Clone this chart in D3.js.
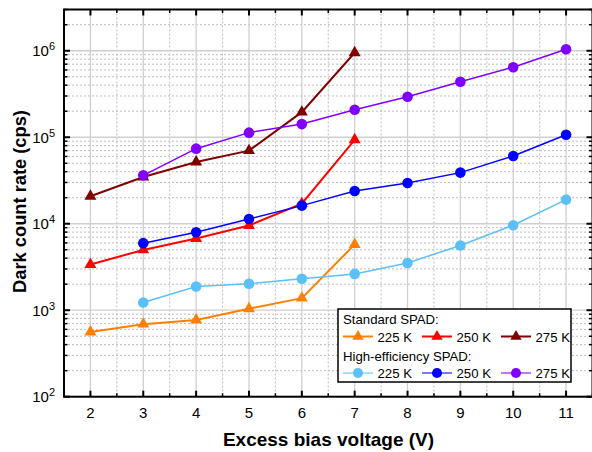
<!DOCTYPE html>
<html><head><meta charset="utf-8">
<script src="https://cdn.jsdelivr.net/npm/d3@7"></script>
<style>
html,body{margin:0;padding:0;background:#fff;}
svg{display:block;font-family:"Liberation Sans",Arial,sans-serif;}
</style></head>
<body>
<script>
// ---- data ----
const xStd = [2, 3, 4, 5, 6, 7];
const xHE = [3, 4, 5, 6, 7, 8, 9, 10, 11];
const std225 = [560, 690, 770, 1040, 1380, 5760];
const std250 = [3380, 4980, 6740, 9530, 17100, 93500];
const std275 = [20800, 34700, 51700, 70000, 195000, 948000];
const he225 = [1230, 1880, 2020, 2310, 2630, 3520, 5600, 9620, 19000];
const he250 = [5960, 7980, 11350, 16200, 23900, 29600, 39000, 60700, 107000];
const he275 = [36300, 73800, 113000, 142000, 208000, 294000, 439000, 646000, 1040000];
const xTicks = [2, 3, 4, 5, 6, 7, 8, 9, 10, 11];
const yTickExps = [2, 3, 4, 5, 6];
const legendLabels = ["225 K", "250 K", "275 K"];

const series = [
  {name:"std225", xs:xStd, ys:std225, color:"#ff8000", marker:"tri", w:2},
  {name:"std250", xs:xStd, ys:std250, color:"#ff0000", marker:"tri", w:2},
  {name:"std275", xs:xStd, ys:std275, color:"#800000", marker:"tri", w:2},
  {name:"he225", xs:xHE, ys:he225, color:"#5bc0f8", marker:"circ", w:1.5},
  {name:"he250", xs:xHE, ys:he250, color:"#0000ff", marker:"circ", w:1.5},
  {name:"he275", xs:xHE, ys:he275, color:"#8000ff", marker:"circ", w:1.5}
];

const W = 592, H = 452;
const L = 64, R = 592.5, T = 9.5, B = 396.7;
const svg = d3.select("body").append("svg").attr("width", W).attr("height", H);

const x = d3.scaleLinear().domain([1.5, 11.5]).range([L, R]);
const y = d3.scaleLog().domain([100, 3e6]).range([B, T]);

const grid = svg.append("g");
d3.range(1.5, 11.6, 1).forEach(v => {
  grid.append("line").attr("x1", x(v)).attr("x2", x(v)).attr("y1", T).attr("y2", B)
    .attr("stroke", "#bdbdbd").attr("stroke-width", 1).attr("stroke-dasharray", "2,2");
});
const minorY = [];
for (let e = 2; e <= 6; e++) for (let m = 2; m <= 9; m++) { const v = m * Math.pow(10, e); if (v <= 3e6) minorY.push(v); }
minorY.forEach(v => {
  grid.append("line").attr("x1", L).attr("x2", R).attr("y1", y(v)).attr("y2", y(v))
    .attr("stroke", "#bdbdbd").attr("stroke-width", 1).attr("stroke-dasharray", "2,2");
});
xTicks.forEach(v => {
  grid.append("line").attr("x1", x(v)).attr("x2", x(v)).attr("y1", T).attr("y2", B)
    .attr("stroke", "#cfcfcf").attr("stroke-width", 1.3);
});
yTickExps.forEach(e => {
  const v = Math.pow(10, e);
  grid.append("line").attr("x1", L).attr("x2", R).attr("y1", y(v)).attr("y2", y(v))
    .attr("stroke", "#cfcfcf").attr("stroke-width", 1.3);
});

function drawMarker(g, cx, cy, s, scale) {
  if (s.marker === "tri") {
    g.append("path").attr("d", d3.symbol().type(d3.symbolTriangle).size(62 * scale)())
      .attr("transform", `translate(${cx},${cy})`).attr("fill", s.color);
  } else {
    g.append("circle").attr("cx", cx).attr("cy", cy).attr("r", 5.3 * Math.sqrt(scale)).attr("fill", s.color);
  }
}

const plot = svg.append("g");
const lineGen = d3.line().x(d => x(d[0])).y(d => y(d[1]));
series.forEach(s => {
  const pts = s.xs.map((xv, i) => [xv, s.ys[i]]);
  plot.append("path").datum(pts).attr("d", lineGen).attr("fill", "none")
    .attr("stroke", s.color).attr("stroke-width", s.w);
  pts.forEach(p => drawMarker(plot, x(p[0]), y(p[1]), s, 1));
});

const ax = svg.append("g").attr("stroke", "#000");
ax.append("rect").attr("x", L).attr("y", T).attr("width", R - L).attr("height", B - T)
  .attr("fill", "none").attr("stroke-width", 2);
xTicks.forEach(v => {
  ax.append("line").attr("x1", x(v)).attr("x2", x(v)).attr("y1", B).attr("y2", B - 6).attr("stroke-width", 2);
  ax.append("line").attr("x1", x(v)).attr("x2", x(v)).attr("y1", T).attr("y2", T + 6).attr("stroke-width", 2);
});
d3.range(1.5, 11.6, 1).forEach(v => {
  ax.append("line").attr("x1", x(v)).attr("x2", x(v)).attr("y1", B).attr("y2", B - 3.5).attr("stroke-width", 1.5);
  ax.append("line").attr("x1", x(v)).attr("x2", x(v)).attr("y1", T).attr("y2", T + 3.5).attr("stroke-width", 1.5);
});
yTickExps.forEach(e => {
  const v = Math.pow(10, e);
  ax.append("line").attr("x1", L).attr("x2", L + 6).attr("y1", y(v)).attr("y2", y(v)).attr("stroke-width", 2);
  ax.append("line").attr("x1", R).attr("x2", R - 6).attr("y1", y(v)).attr("y2", y(v)).attr("stroke-width", 2);
});
minorY.forEach(v => {
  ax.append("line").attr("x1", L).attr("x2", L + 3.5).attr("y1", y(v)).attr("y2", y(v)).attr("stroke-width", 1.5);
  ax.append("line").attr("x1", R).attr("x2", R - 3.5).attr("y1", y(v)).attr("y2", y(v)).attr("stroke-width", 1.5);
});

const lbl = svg.append("g").attr("fill", "#000").attr("font-size", 15);
xTicks.forEach(v => {
  lbl.append("text").attr("x", x(v)).attr("y", 418).attr("text-anchor", "middle").text(v);
});
yTickExps.forEach(e => {
  const t = lbl.append("text").attr("x", 55).attr("y", y(Math.pow(10, e)) + 5.5).attr("text-anchor", "end");
  t.append("tspan").text("10");
  t.append("tspan").attr("font-size", 11).attr("dy", -6).text(e);
});

svg.append("text").attr("x", 328.5).attr("y", 446).attr("text-anchor", "middle")
  .attr("font-size", 19).attr("font-weight", "bold").text("Excess bias voltage (V)");
svg.append("text").attr("transform", "translate(25.5,201.5) rotate(-90)").attr("text-anchor", "middle")
  .attr("font-size", 18.3).attr("font-weight", "bold").text("Dark count rate (cps)");

const lg = svg.append("g");
lg.append("rect").attr("x", 338).attr("y", 309).attr("width", 233).attr("height", 73)
  .attr("fill", "#fff").attr("stroke", "#000").attr("stroke-width", 1.5);
lg.append("text").attr("x", 343).attr("y", 324).attr("font-size", 13.2).text("Standard SPAD:");
lg.append("text").attr("x", 343).attr("y", 361).attr("font-size", 13.2).text("High-efficiency SPAD:");
const colX = [343, 422, 501];
[[0, 1, 2, 336.5], [3, 4, 5, 373]].forEach(row => {
  for (let k = 0; k < 3; k++) {
    const s = series[row[k]], cy = row[3], x0 = colX[k];
    lg.append("line").attr("x1", x0).attr("x2", x0 + 30).attr("y1", cy).attr("y2", cy)
      .attr("stroke", s.color).attr("stroke-width", s.w).attr("opacity", s.marker === "circ" ? 0.7 : 1);
    drawMarker(lg, x0 + 15, cy, s, 0.9);
    lg.append("text").attr("x", x0 + 34.5).attr("y", cy + 5).attr("font-size", 13.2).text(legendLabels[k]);
  }
});
</script>
</body></html>
